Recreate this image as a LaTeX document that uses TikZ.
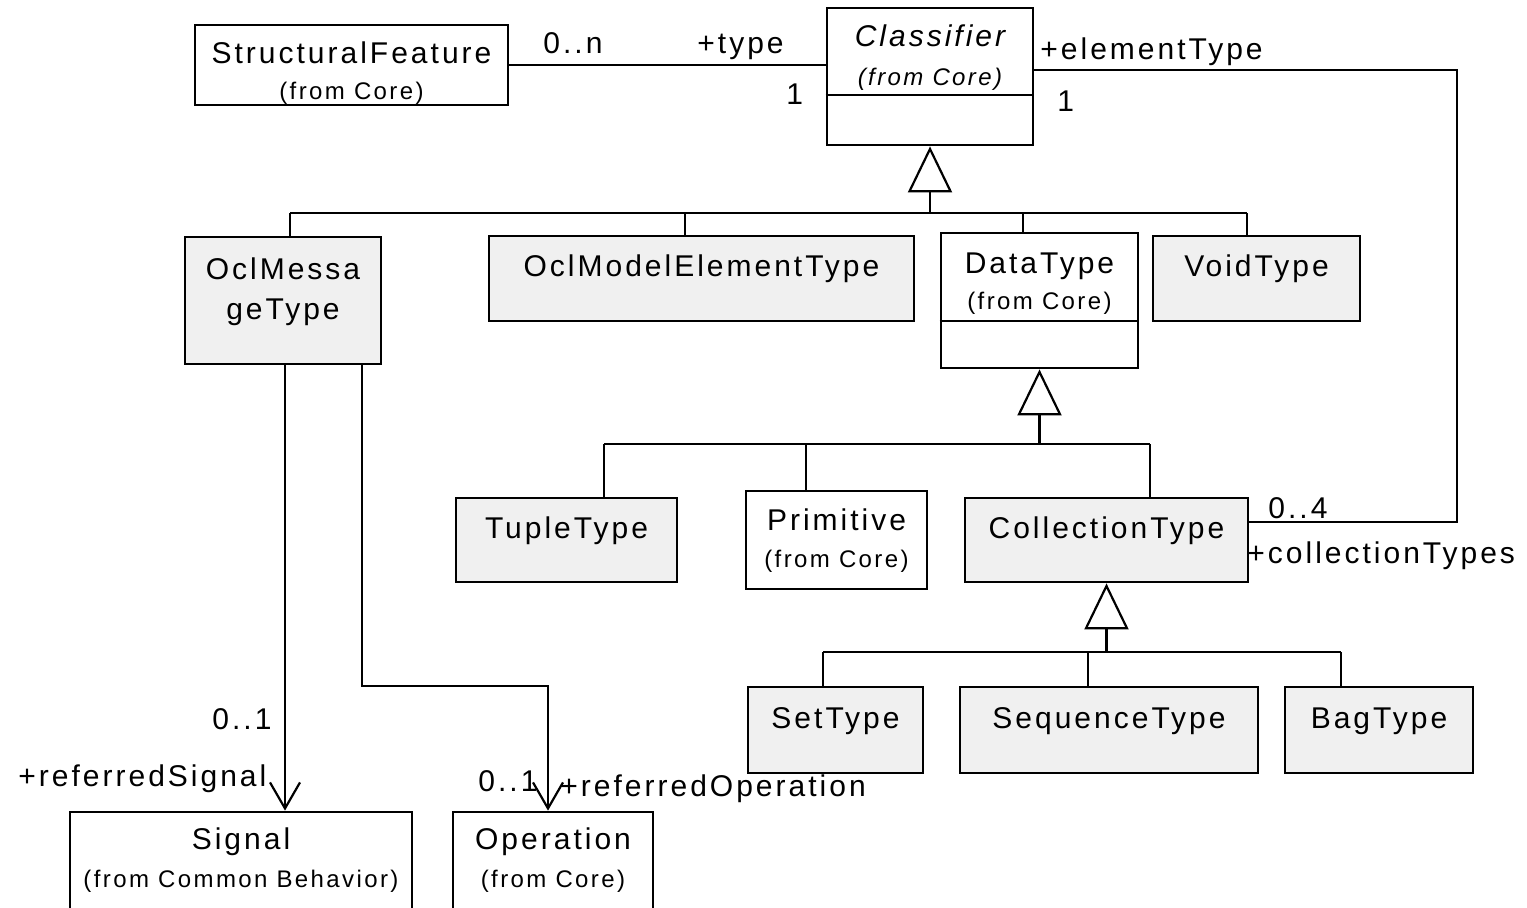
\documentclass[tikz,border=0pt]{standalone}
\usepackage{fontspec}
\setmainfont{Liberation Sans}[LetterSpace=10]
\usetikzlibrary{arrows.meta}
\definecolor{typefill}{HTML}{F0F0F0}
\tikzset{
  umlbox/.style={draw,line width=1.4pt,inner sep=0pt},
  typebox/.style={umlbox,fill=typefill},
  ttl/.style={anchor=base,inner sep=0pt,font=\fontsize{15}{18}\selectfont},
  pkg/.style={anchor=base,inner sep=0pt,font=\fontsize{12}{14}\selectfont},
  role/.style={anchor=base west,inner sep=0pt,font=\fontsize{15}{18}\selectfont},
  link/.style={line width=1.1pt},
  gen/.style={link,-{Triangle[open,length=23pt,width=22pt,line width=1.1pt]}},
  nav/.style={link,-{Straight Barb[length=13pt,width=15pt,line width=1.1pt]}},
}
\begin{document}
\begin{tikzpicture}[x=0.5pt,y=-0.5pt,line join=miter]
\useasboundingbox (0,0) rectangle (1527,907);
\clip (0,0) rectangle (1527,907);
% boxes
\node[umlbox,minimum width=156.5pt,minimum height=40pt] (sf) at (351.5,65) {};
\node[umlbox,minimum width=103pt,minimum height=68.5pt] (cls) at (930,76.5) {};
\node[typebox,minimum width=98pt,minimum height=63.5pt] (omt) at (283,300.5) {};
\node[typebox,minimum width=212.5pt,minimum height=42.5pt] (omet) at (701.5,278.5) {};
\node[umlbox,minimum width=98.5pt,minimum height=67.5pt] (dt) at (1039.5,300.5) {};
\node[typebox,minimum width=103.5pt,minimum height=42.5pt] (vt) at (1256.5,278.5) {};
\node[typebox,minimum width=110.5pt,minimum height=42pt] (tt) at (566.5,540) {};
\node[umlbox,minimum width=90.5pt,minimum height=49pt] (prim) at (836.5,540) {};
\node[typebox,minimum width=141.5pt,minimum height=42pt] (ct) at (1106.5,540) {};
\node[typebox,minimum width=87.5pt,minimum height=43pt] (st) at (835.5,730) {};
\node[typebox,minimum width=149pt,minimum height=43pt] (seq) at (1109,730) {};
\node[typebox,minimum width=94pt,minimum height=43pt] (bag) at (1379,730) {};
\node[umlbox,minimum width=171pt,minimum height=74pt] (sig) at (241,886) {};
\node[umlbox,minimum width=100pt,minimum height=74pt] (op) at (553,886) {};
% compartments
\path (930,95) coordinate (cdiv) (1039.5,321) coordinate (ddiv);
\draw[line width=1.4pt] (cls.west |- cdiv) -- (cls.east |- cdiv);
\draw[line width=1.4pt] (dt.west |- ddiv) -- (dt.east |- ddiv);
% texts
\node[ttl] (sf-t) at (351.5,63) {StructuralFeature};
\node[pkg] (sf-p) at (351.5,99) {(from Core)};
\node[ttl,font=\fontsize{15}{18}\selectfont\itshape] (cls-t) at (930,46) {Classifier};
\node[pkg,font=\fontsize{12}{14}\selectfont\itshape] (cls-p) at (930,85) {(from Core)};
\node[ttl] (omt-t1) at (283,279) {OclMessa};
\node[ttl] (omt-t2) at (283,319) {geType};
\node[ttl] (omet-t) at (701.5,276) {OclModelElementType};
\node[ttl] (dt-t) at (1039.5,273) {DataType};
\node[pkg] (dt-p) at (1039.5,309) {(from Core)};
\node[ttl] (vt-t) at (1256.5,276) {VoidType};
\node[ttl] (tt-t) at (566.5,538) {TupleType};
\node[ttl] (prim-t) at (836.5,530) {Primitive};
\node[pkg] (prim-p) at (836.5,567) {(from Core)};
\node[ttl] (ct-t) at (1106.5,538) {CollectionType};
\node[ttl] (st-t) at (835.5,728) {SetType};
\node[ttl] (seq-t) at (1109,728) {SequenceType};
\node[ttl] (bag-t) at (1379,728) {BagType};
\node[ttl] (sig-t) at (241,849) {Signal};
\node[pkg] (sig-p) at (241,887) {(from Common Behavior)};
\node[ttl] (op-t) at (553,849) {Operation};
\node[pkg] (op-p) at (553,887) {(from Core)};
% associations
\draw[link] (sf.east) -- (sf.east -| cls.west);
\node[role] (r-on) at (543,53) {0..n};
\node[role] (r-type) at (697,53) {+type};
\node[role] (r-one) at (786,104) {1};
\path (1457,70) coordinate (elt) (1457,522) coordinate (clt);
\draw[link] (cls.east |- elt) -- (elt) -- (clt) -- (ct.east |- clt);
\node[role] (r-et) at (1040,59) {+elementType};
\node[role] (r-et1) at (1057,111) {1};
\node[role] (r-c4) at (1268,518) {0..4};
\node[role] (r-ct) at (1247,563) {+collectionTypes};
\path (285,0) coordinate (sg) (362,686) coordinate (oa) (548,686) coordinate (ob);
\draw[nav] (sg |- omt.south) -- (sg |- sig.north);
\draw[nav] (oa |- omt.south) -- (oa) -- (ob) -- (ob |- op.north);
\node[role] (r-s1) at (212,729) {0..1};
\node[role] (r-rs) at (18,786) {+referredSignal};
\node[role] (r-o1) at (478,791) {0..1};
\node[role] (r-ro) at (560,796) {+referredOperation};
% generalizations
\path (290,213) coordinate (ga) (685,213) coordinate (gb) (1023,213) coordinate (gc) (1247,213) coordinate (gd);
\draw[link] (ga) -- (gd);
\draw[link] (ga) -- (ga |- omt.north) (gb) -- (gb |- omet.north) (gc) -- (gc |- dt.north) (gd) -- (gd |- vt.north);
\draw[gen] (cls.south |- ga) -- (cls.south);
\path (604,444) coordinate (ha) (806,444) coordinate (hb) (1150,444) coordinate (hc);
\draw[link] (ha) -- (hc);
\draw[link] (ha) -- (ha |- tt.north) (hb) -- (hb |- prim.north) (hc) -- (hc |- ct.north);
\draw[gen] (dt.south |- ha) -- (dt.south);
\path (823,652) coordinate (ka) (1088,652) coordinate (kb) (1341,652) coordinate (kc);
\draw[link] (ka) -- (kc);
\draw[link] (ka) -- (ka |- st.north) (kb) -- (kb |- seq.north) (kc) -- (kc |- bag.north);
\draw[gen] (ct.south |- ka) -- (ct.south);
\end{tikzpicture}
\end{document}
